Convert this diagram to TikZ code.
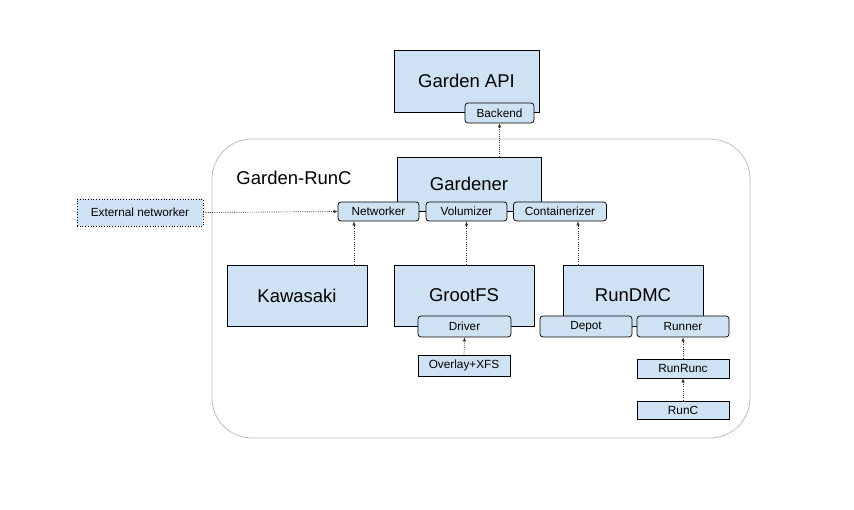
\documentclass[tikz,border=0pt]{standalone}
\usepackage{fontspec}
\setmainfont{Liberation Sans}
\usetikzlibrary{positioning, calc, arrows.meta}
\definecolor{paleblue}{HTML}{CFE2F3}
\definecolor{framegray}{HTML}{BDBDBD}

\begin{document}
\begin{tikzpicture}[x=1pt, y=-1pt,
box/.style={rectangle, draw=black, fill=paleblue, line width=0.7pt, minimum width=140pt, minimum height=61pt, inner sep=0pt, font=\fontsize{18.5}{20}\selectfont},
port/.style={rectangle, rounded corners=3pt, draw=black, fill=paleblue, line width=0.7pt, minimum width=92pt, minimum height=20pt, inner sep=0pt, font=\fontsize{11.8}{13}\selectfont},
leaf/.style={port, rounded corners=0pt, minimum height=18pt},
flow/.style={draw=black!80, line width=0.65pt, dash pattern=on 1pt off 1.2pt, -{Latex[length=4pt, width=3.5pt]}}]
\useasboundingbox (0,0) rectangle (854,510);
% frame
\draw[framegray, line width=0.8pt, rounded corners=40pt] (212,139) rectangle (750,438);
\node (title) at (294,178) [font=\fontsize{18.5}{20}\selectfont] {Garden-RunC};
% top
\node (api) at (466.5,81) [box, minimum width=145pt, minimum height=62pt] {Garden API};
\node (backend) at (499.5,113) [port, minimum width=69pt] {Backend};
\node (gardener) at (469,184) [box, minimum width=144pt, minimum height=54pt] {Gardener};
\node (networker) at (378.5,211.5) [port, minimum width=81pt, minimum height=19pt] {Networker};
\node (volumizer) at (466.5,211.5) [port, minimum width=81pt, minimum height=19pt] {Volumizer};
\node (containerizer) at (560,211.5) [port, minimum width=93pt, minimum height=19pt] {Containerizer};
\node (external) at (140,212.5) [port, rounded corners=0pt, dotted, minimum width=126pt, minimum height=27pt] {External networker};
% middle row
\node (kawasaki) at (297,295.5) [box] {Kawasaki};
\node (grootfs) at (464,295.5) [box] {GrootFS};
\node (rundmc) at (633,295.5) [box] {RunDMC};
\node (driver) at (464.5,326.5) [port, minimum width=93pt, minimum height=21pt] {Driver};
\node (depot) at (586,326.5) [port, minimum height=21pt] {Depot};
\node (runner) at (683,326.5) [port, minimum height=21pt] {Runner};
% bottom
\node (overlay) at (464,365.5) [leaf, minimum width=92pt, minimum height=21pt] {Overlay+XFS};
\node (runrunc) at (683,368.5) [leaf, minimum height=19pt] {RunRunc};
\node (runc) at (683,410) [leaf] {RunC};
% links
\draw[line width=0.7pt] (networker) -- (volumizer);
\draw[line width=0.7pt] (volumizer) -- (containerizer);
\draw[line width=0.7pt] (depot) -- (runner);
\draw[flow] (gardener.north -| backend.south) -- (backend.south);
\draw[flow] (external.east) -- (networker.west);
\draw[flow] ([xshift=57pt]kawasaki.north) -- ([xshift=57pt]kawasaki.north |- networker.south);
\draw[flow] (grootfs.north -| volumizer.south) -- (volumizer.south);
\draw[flow] ([xshift=18pt]containerizer.south |- rundmc.north) -- ([xshift=18pt]containerizer.south);
\draw[flow] (overlay.north) -- (driver.south);
\draw[flow] (runrunc.north) -- (runner.south);
\draw[flow] (runc.north) -- (runrunc.south);
\end{tikzpicture}
\end{document}
